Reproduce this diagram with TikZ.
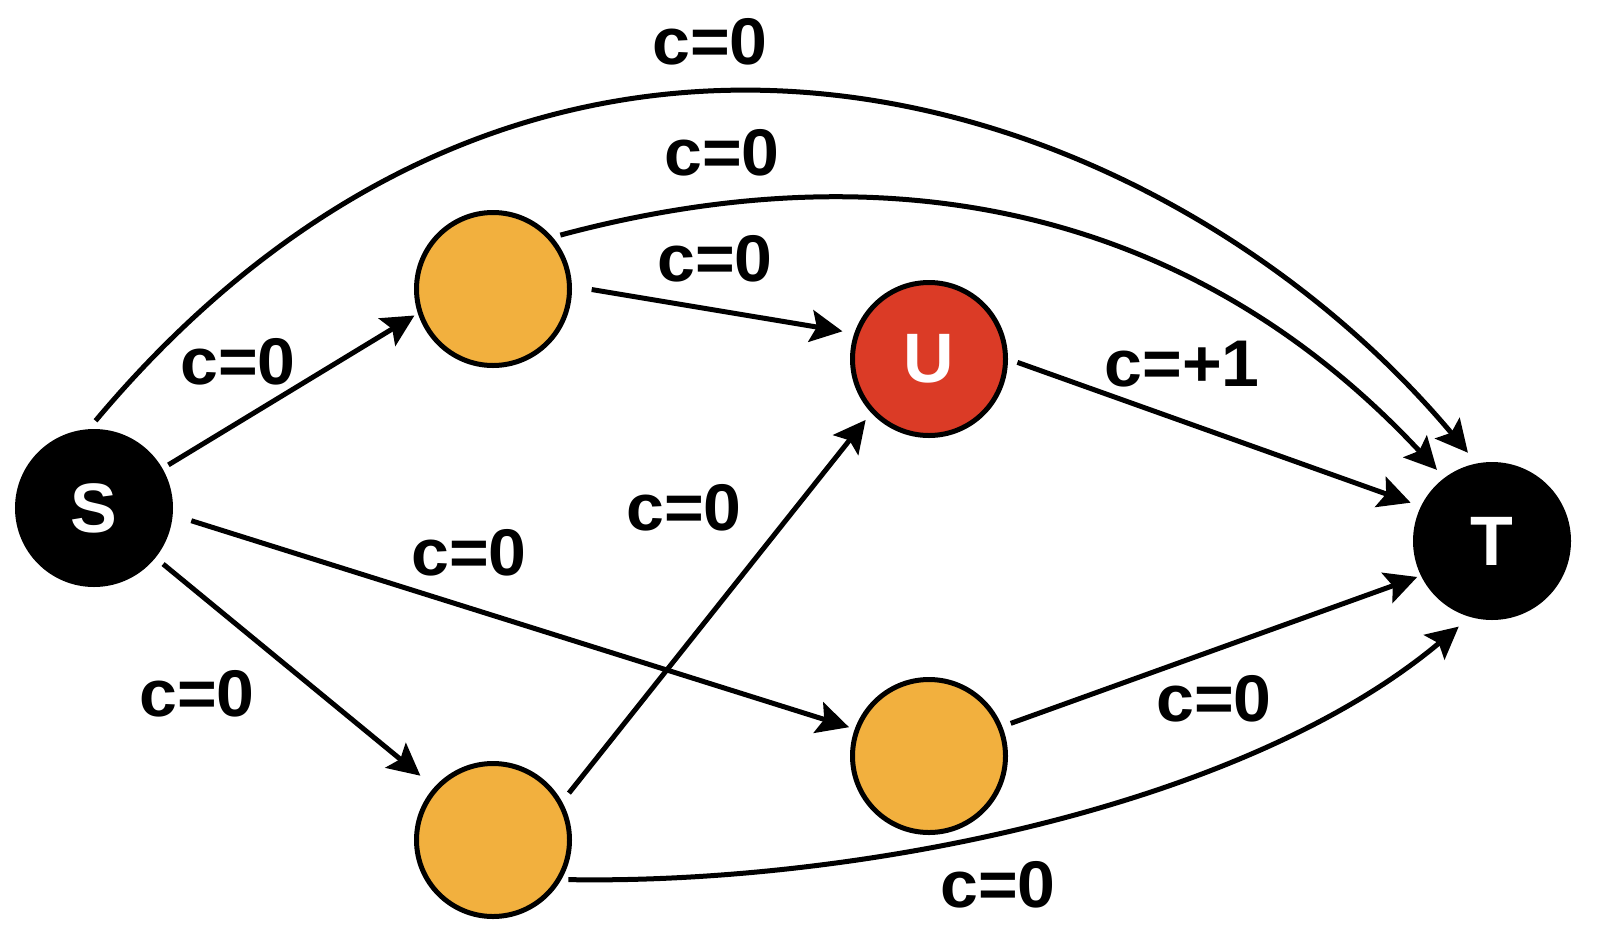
\documentclass[tikz,border=0pt]{standalone}
\usepackage{fontspec}
\setmainfont{Liberation Sans}
\newfontfamily\lblfont[FakeStretch=1.03]{Liberation Sans}
\usetikzlibrary{arrows.meta}
\definecolor{nodeorange}{RGB}{242,176,62}
\definecolor{nodered}{RGB}{219,59,38}
\begin{document}
\begin{tikzpicture}[x=1pt,y=1pt,
  vtx/.style={circle, draw=black, line width=5pt, minimum size=153pt, inner sep=0pt,
    font=\fontsize{70}{80}\selectfont\bfseries, text=white},
  edge/.style={line width=5pt, -{Stealth[length=32pt,width=32pt,inset=6pt]}},
  lbl/.style={font=\lblfont\fontsize{66}{70}\selectfont\bfseries, inner sep=0pt}]
\useasboundingbox (0,0) rectangle (1600,-940);
% nodes
\node[vtx, fill=black] (S) at (94,-508) {S};
\node[vtx, fill=nodeorange] (o1) at (493,-289) {};
\node[vtx, fill=nodered] (U) at (929,-359) {U};
\node[vtx, fill=black] (T) at (1492,-541) {T};
\node[vtx, fill=nodeorange] (o2) at (929,-756) {};
\node[vtx, fill=nodeorange] (o3) at (493,-840) {};
% edges
\draw[edge, shorten <=11pt, shorten >=14pt] (S.94) .. controls +(50:720) and +(130:485) .. (T.101.5);
\draw[edge, shorten <=8pt, shorten >=11pt] (o1.41.3) .. controls +(15:360) and +(133:360) .. (T.127.6);
\draw[edge, shorten <=7pt, shorten >=15pt] (o3.-30) .. controls +(-1:286) and +(220:300) .. (T.254.7);
\draw[edge, shorten <=7pt, shorten >=4pt] (S.30.7) -- (o1.198.9);
\draw[edge, shorten <=20pt, shorten >=12pt] (o1.2) -- (U.161.6);
\draw[edge, shorten <=10pt, shorten >=11pt] (U.0.6) -- (T.154.3);
\draw[edge, shorten <=19.5pt, shorten >=6pt] (S.-5.8) -- (o2.160);
\draw[edge, shorten <=10pt, shorten >=18pt] (S.-39) -- (o3.138.8);
\draw[edge, shorten <=11pt, shorten >=9pt] (o3.29.1) -- (U.223.6);
\draw[edge, shorten <=9pt, shorten >=4pt] (o2.22.8) -- (T.206.6);
% labels
\node[lbl] (l1) at (710,-42) {c=0};
\node[lbl] (l2) at (722,-153) {c=0};
\node[lbl] (l3) at (715,-259) {c=0};
\node[lbl] (l4) at (238,-362) {c=0};
\node[lbl] (l5) at (1182,-364) {c=+1};
\node[lbl] (l6) at (469,-553) {c=0};
\node[lbl] (l7) at (197,-694) {c=0};
\node[lbl] (l8) at (684,-508) {c=0};
\node[lbl] (l9) at (1214,-699) {c=0};
\node[lbl] (l10) at (998,-885) {c=0};
\end{tikzpicture}
\end{document}
